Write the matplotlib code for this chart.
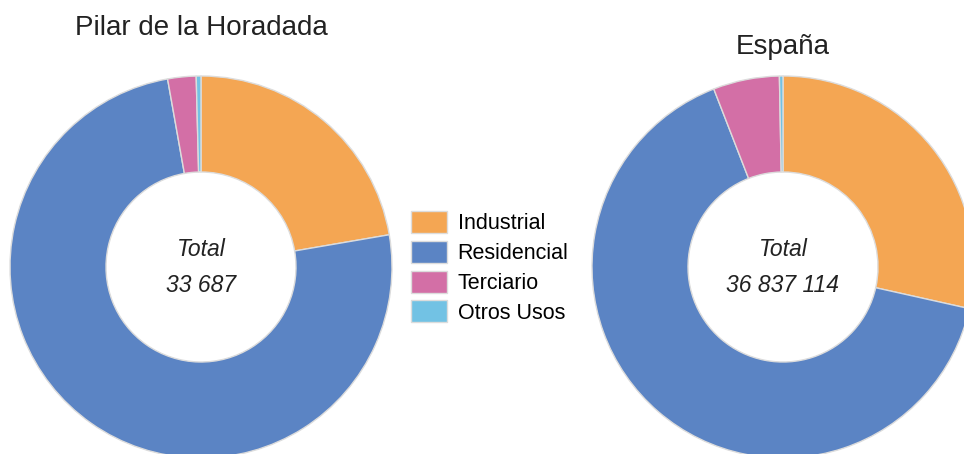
import numpy as np
import matplotlib.pyplot as plt

plt.rcParams['font.family'] = ['Liberation Sans', 'DejaVu Sans']

## Data
usos = ['Industrial', 'Residencial', 'Terciario', 'Otros Usos']
colores = ['#F4A653', '#5B84C4', '#D36FA6', '#72C2E4']

pilar = [7512, 25232, 808, 135]                 # total 33 687
espana = [10498577, 24165147, 2062878, 110512]  # total 36 837 114

titulos = ['Pilar de la Horadada', 'España']
totales = ['33 687', '36 837 114']

W, H = 964, 454
fig = plt.figure(figsize=(W/100, H/100), dpi=100)
ax = fig.add_axes([0, 0, 1, 1])

R = 191       # outer radius, px
r_in = 95     # hole radius, px
centros = [(201, H - 267), (783, H - 267)]
y_tit = [H - 28, H - 47]

wedges = None
for datos, (cx, cy), tit, tot, yt in zip([pilar, espana], centros, titulos, totales, y_tit):
    w, _ = ax.pie(datos, colors=colores, startangle=90, counterclock=False,
                  center=(cx, cy), radius=R, frame=True,
                  wedgeprops=dict(width=R - r_in, edgecolor='#dcdcdc', linewidth=1))
    if wedges is None:
        wedges = w
    ax.text(cx, yt, tit, ha='center', va='center', fontsize=20, color='#222222')
    ax.text(cx, cy + 18, 'Total', ha='center', va='center', fontsize=16.5,
            style='italic', color='#222222')
    ax.text(cx, cy - 18, tot, ha='center', va='center', fontsize=16.5,
            style='italic', color='#222222')

# pie() resets limits, put them back
ax.set_xlim(0, W)
ax.set_ylim(0, H)
ax.set_aspect('equal')
ax.axis('off')

fig.legend(wedges, usos, loc='upper left',
           bbox_to_anchor=(411/W, 1 - 211/H), frameon=False, fontsize=15.5,
           handlelength=1.67, handleheight=1.2, handletextpad=0.5,
           labelspacing=0.3, borderpad=0, borderaxespad=0)

fig.savefig('out.png', dpi=100)
